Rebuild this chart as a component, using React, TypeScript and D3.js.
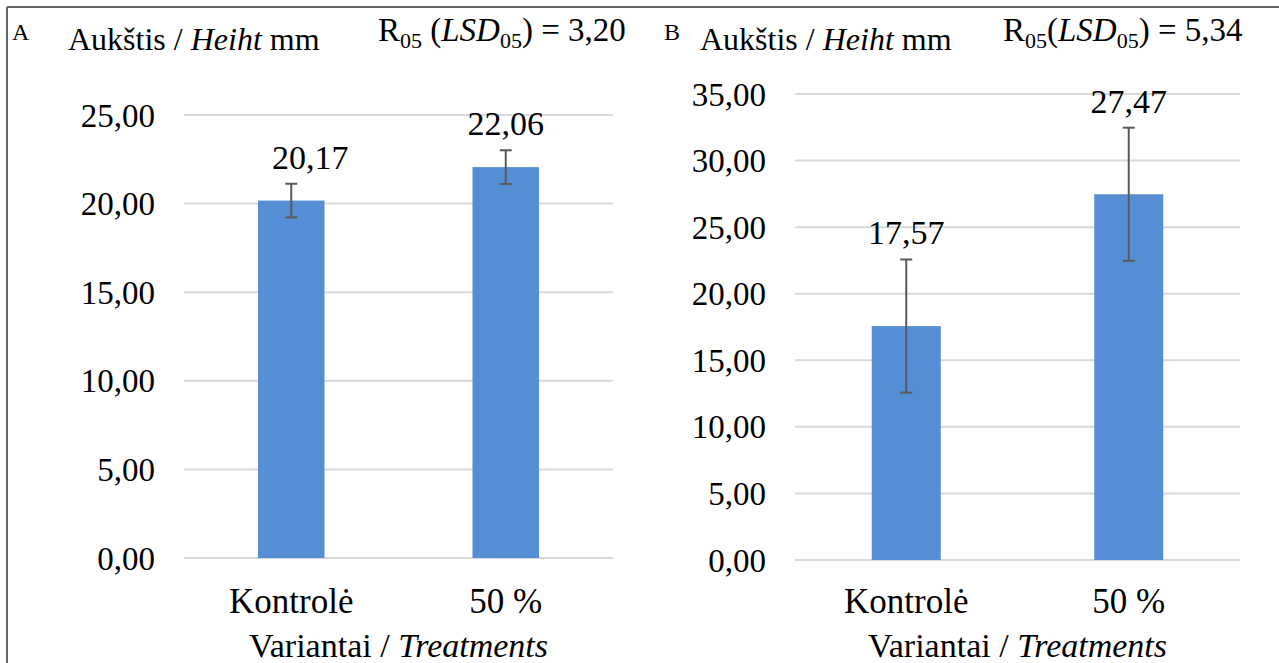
import React from 'react';
import * as d3 from 'd3';

// treatments and measured heights (mm)
const categories = ['Kontrolė', '50 %'];
const heightA = [20.17, 22.06];
const errorA = [0.95, 0.95];
const heightB = [17.57, 27.47];
const errorB = [5.0, 5.0];
const ticksA = [0, 5, 10, 15, 20, 25];
const ticksB = [0, 5, 10, 15, 20, 25, 30, 35];
const lsdA = '3,20';
const lsdB = '5,34';

const W = 1279;
const H = 663;
const FONT = '"Liberation Serif", "Times New Roman", serif';
const BAR = '#558ed5';
const GRID = '#d9d9d9';
const ERR = '#595959';

const fmt = (v: number) => d3.format('.2f')(v).replace('.', ',');

type PanelProps = {
  letter: string;
  values: number[];
  errors: number[];
  ticks: number[];
  lsd: string;
  left: number;
  right: number;
  top: number;
  bottom: number;
  letterX: number;
  titleX: number;
  lsdX: number;
  lsdGap: boolean;
  labelDx: number[];
};

const Panel = (p: PanelProps) => {
  const x = d3.scaleBand<string>()
    .domain(categories)
    .range([p.left, p.right])
    .paddingInner(0.69)
    .paddingOuter(0.345);
  const y = d3.scaleLinear()
    .domain([0, d3.max(p.ticks) as number])
    .range([p.bottom, p.top]);
  const bw = x.bandwidth();
  const mid = (p.left + p.right) / 2;

  return (
    <g>
      {/* header */}
      <text x={p.letterX} y={40} fontSize={24}>{p.letter}</text>
      <text x={p.titleX} y={50} fontSize={32}>
        Aukštis / <tspan fontStyle="italic">Heiht</tspan> mm
      </text>
      <text x={p.lsdX} y={41} fontSize={33}>
        R<tspan fontSize={22} dy={7}>05</tspan>
        <tspan dy={-7}>{p.lsdGap ? ' (' : '('}</tspan>
        <tspan fontStyle="italic">LSD</tspan>
        <tspan fontSize={22} dy={7}>05</tspan>
        <tspan dy={-7}>{') = ' + p.lsd}</tspan>
      </text>

      {/* gridlines and y tick labels */}
      {p.ticks.map(t => (
        <g key={t}>
          <line x1={p.left} x2={p.right} y1={y(t)} y2={y(t)} stroke={GRID} strokeWidth={2} />
          <text x={p.left - 29} y={y(t)} dy="0.35em" textAnchor="end" fontSize={33}>{fmt(t)}</text>
        </g>
      ))}

      {/* bars */}
      {categories.map((c, i) => {
        const cx = (x(c) as number) + bw / 2;
        const v = p.values[i];
        const e = p.errors[i];
        return (
          <g key={c}>
            <rect x={x(c)} y={y(v)} width={bw} height={y(0) - y(v)} fill={BAR} />
            <line x1={cx} x2={cx} y1={y(v + e)} y2={y(v - e)} stroke={ERR} strokeWidth={2} />
            <line x1={cx - 6} x2={cx + 6} y1={y(v + e)} y2={y(v + e)} stroke={ERR} strokeWidth={2} />
            <line x1={cx - 6} x2={cx + 6} y1={y(v - e)} y2={y(v - e)} stroke={ERR} strokeWidth={2} />
            <text x={cx + p.labelDx[i]} y={y(v + e) - 15} textAnchor="middle" fontSize={34}>{fmt(v)}</text>
            <text x={cx} y={613} textAnchor="middle" fontSize={35}>{c}</text>
          </g>
        );
      })}

      {/* x axis title */}
      <text x={mid} y={657} textAnchor="middle" fontSize={34}>
        Variantai / <tspan fontStyle="italic">Treatments</tspan>
      </text>
    </g>
  );
};

export default function App() {
  return (
    <svg
      width={W}
      height={H}
      style={{ position: 'absolute', left: 0, top: 0, background: '#fff' }}
      fontFamily={FONT}
      fill="#000"
    >
      <rect x={0} y={0} width={W} height={H} fill="#fff" />
      <line x1={7} x2={W} y1={7} y2={7} stroke="#666" strokeWidth={2} />
      <line x1={7} x2={7} y1={7} y2={H} stroke="#666" strokeWidth={2} />
      <Panel
        letter="A" values={heightA} errors={errorA} ticks={ticksA} lsd={lsdA}
        left={184} right={613} top={115} bottom={558}
        letterX={12} titleX={68} lsdX={378} lsdGap={true} labelDx={[19, 0]}
      />
      <Panel
        letter="B" values={heightB} errors={errorB} ticks={ticksB} lsd={lsdB}
        left={795} right={1240} top={94} bottom={560}
        letterX={664} titleX={700} lsdX={1003} lsdGap={false} labelDx={[0, 0]}
      />
    </svg>
  );
}
